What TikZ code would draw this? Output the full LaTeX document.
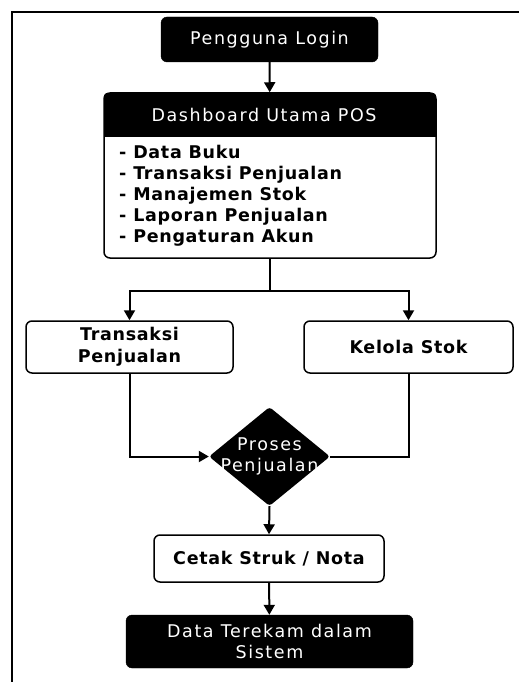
\documentclass[tikz,border=0pt]{standalone}
\usepackage{fontspec}
\setmainfont{DejaVu Sans}
\newfontfamily\darkfont{DejaVu Sans}[LetterSpace=9]
\newfontfamily\lightfont{DejaVu Sans}[LetterSpace=4]
\usetikzlibrary{arrows.meta,shapes.geometric}

\tikzset{
  darkbox/.style={rectangle,rounded corners=6pt,fill=black,draw=black,
    text=white,align=center,inner sep=0pt,
    font=\darkfont\fontsize{17.5}{21}\selectfont},
  lightbox/.style={rectangle,rounded corners=6pt,draw=black,line width=1.5pt,
    fill=white,align=center,inner sep=0pt,
    font=\lightfont\bfseries\fontsize{17.5}{22}\selectfont},
  conn/.style={line width=2pt},
  arrow/.style={conn,-{Triangle[length=10pt,width=11pt]}}
}

\begin{document}
\begin{tikzpicture}[x=1pt,y=-1pt]

  \useasboundingbox (0,0) rectangle (519,682);
  \draw[line width=2pt] (519,12) -- (12,12) -- (12,682);

  % top of the flow
  \node (login) at (269.5,39.5) [darkbox,minimum width=217pt,minimum height=45pt] {Pengguna Login};

  \node (dash) at (270,175.5) [lightbox,minimum width=332pt,minimum height=165pt] {};
  \begin{scope}
    \clip[rounded corners=6pt] (dash.north west) rectangle (dash.south east);
    \fill[black] (104,93) rectangle (436,137);
  \end{scope}
  \node (dashtitle) at (264,115) [text=white,font=\darkfont\fontsize{17.5}{21}\selectfont] {Dashboard Utama POS};
  \node (dashlist) at (119,196) [anchor=west,align=left,inner sep=0pt,
    font=\lightfont\bfseries\fontsize{17.5}{21}\selectfont]
    {- Data Buku\\- Transaksi Penjualan\\- Manajemen Stok\\- Laporan Penjualan\\- Pengaturan Akun};

  % two branches
  \node (trans) at (129.5,347) [lightbox,minimum width=207pt,minimum height=52pt] {Transaksi\\Penjualan};
  \node (stok) at (408.5,347) [lightbox,minimum width=209pt,minimum height=52pt] {Kelola Stok};

  \node (proses) at (269.5,456.5) [diamond,fill=black,rounded corners=3pt,inner sep=0pt,
    minimum width=121pt,minimum height=99pt] {};
  \node (prosestext) at (proses) [text=white,align=center,
    font=\darkfont\fontsize{17.5}{21}\selectfont] {Proses\\Penjualan};

  % end of the flow
  \node (cetak) at (269,558.5) [lightbox,minimum width=230pt,minimum height=47pt] {Cetak Struk / Nota};
  \node (record) at (269.5,641.5) [darkbox,minimum width=287pt,minimum height=53pt] {Data Terekam dalam\\Sistem};

  \coordinate (fork) at (270,291);

  \draw[arrow] (login) -- (dash);
  \draw[conn] (dash.south) -- (fork);
  \draw[arrow] (fork) -| (trans.north);
  \draw[arrow] (fork) -| (stok.north);
  \draw[arrow] (trans.south) |- (proses.west);
  \draw[conn] (stok.south) |- (proses.east);
  \draw[arrow] (proses.south) -- (cetak.north);
  \draw[arrow] (cetak) -- (record);

\end{tikzpicture}
\end{document}
